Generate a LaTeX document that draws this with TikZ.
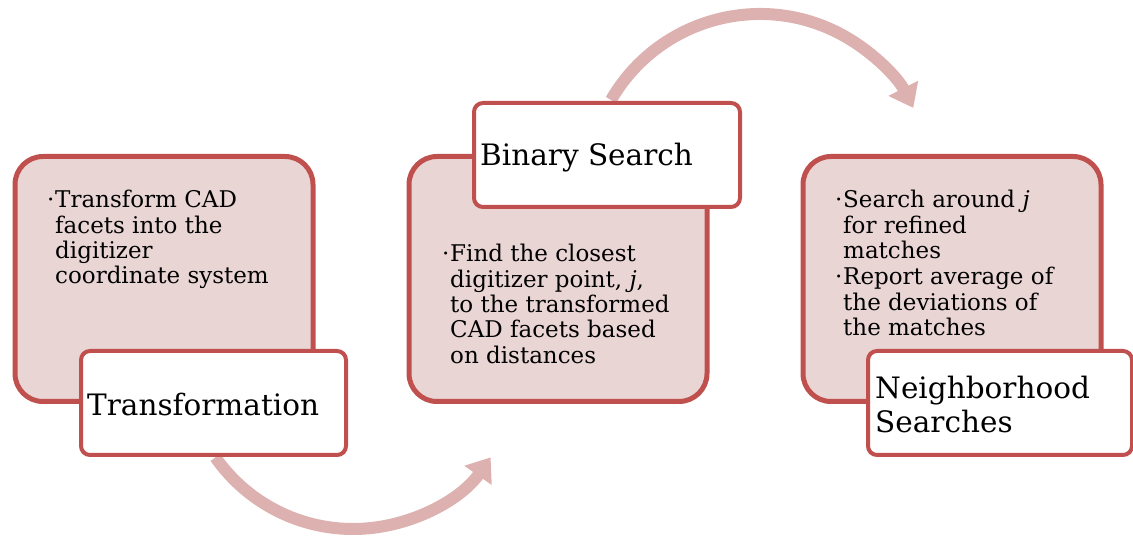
\documentclass[tikz,border=0pt]{standalone}
\usepackage{fontspec}
\setmainfont{DejaVu Serif}
\usetikzlibrary{arrows.meta}
\definecolor{boxred}{RGB}{192,80,77}
\definecolor{boxpink}{RGB}{234,213,213}
\definecolor{arrowpink}{RGB}{222,177,177}
\tikzset{
  stagebox/.style={draw=boxred, fill=boxpink, line width=5pt, rounded corners=28pt,
    anchor=south west, inner sep=0pt, minimum width=298pt, minimum height=245pt},
  titlebox/.style={draw=boxred, fill=white, line width=4pt, rounded corners=9pt,
    anchor=south west, inner sep=0pt, minimum height=104pt},
  bodytext/.style={anchor=north west, align=left, inner sep=0pt,
    font=\fontsize{23}{25.4}\selectfont},
  titletext/.style={anchor=west, align=left, inner sep=0pt,
    font=\fontsize{29.5}{34}\selectfont},
  flowarrow/.style={draw=arrowpink, line width=12pt,
    -{Triangle[width=32pt,length=22pt]}},
}
\newcommand{\bul}{\makebox[8pt][l]{·}}
\newcommand{\ind}{\hspace*{8pt}}
\begin{document}
\begin{tikzpicture}[x=1pt,y=1pt]
\useasboundingbox (0,0) rectangle (1133,541);

% curved arrows behind the boxes
\path (353,180) ++(215:168) coordinate (a1s);
\draw[flowarrow] (a1s) arc[start angle=215, end angle=325, radius=168];
\path (760,355) ++(150:172) coordinate (a2s);
\draw[flowarrow] (a2s) arc[start angle=150, end angle=27, radius=172];

% stage 1
\node[stagebox] (p1) at (12.5,137) {};
\node[titlebox, minimum width=265pt] (t1) at (79,84) {};
\node[bodytext] (b1) at (47,351) {\bul Transform CAD\\\ind facets into the\\\ind digitizer\\\ind coordinate system};
\node[titletext] (l1) at (87,136) {Transformation};

% stage 2
\node[stagebox] (p2) at (406.5,137) {};
\node[titlebox, minimum width=266pt] (t2) at (472,332) {};
\node[bodytext] (b2) at (442,297) {\bul Find the closest\\\ind digitizer point, \textit{j},\\\ind to the transformed\\\ind CAD facets based\\\ind on distances};
\node[titletext] (l2) at (480,383) {Binary Search};

% stage 3
\node[stagebox] (p3) at (800.5,137) {};
\node[titlebox, minimum width=264pt] (t3) at (866,84) {};
\node[bodytext] (b3) at (835,351) {\bul Search around \textit{j}\\\ind for refined\\\ind matches\\[1pt]\bul Report average of\\\ind the deviations of\\\ind the matches};
\node[titletext] (l3) at (875,136) {Neighborhood\\Searches};
\end{tikzpicture}
\end{document}
